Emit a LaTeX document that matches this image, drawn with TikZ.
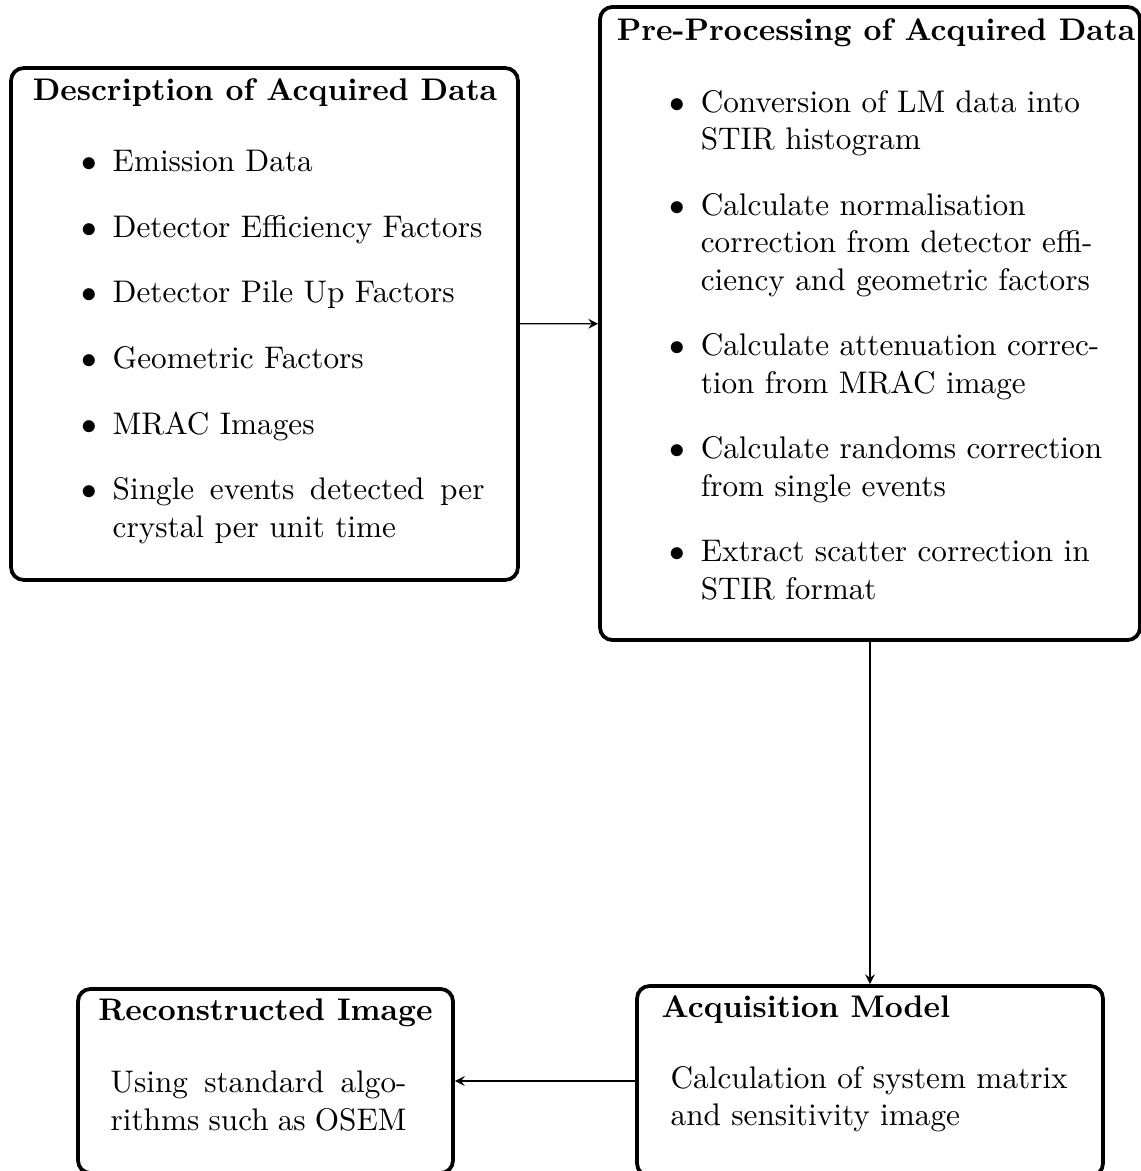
\documentclass[tikz,border=0pt]{standalone}
\usepackage{amsmath, amssymb}
\usepackage{tikz}
\usetikzlibrary{arrows,calc,positioning}
\renewcommand{\labelitemi}{$\bullet$}

\begin{document}
\begin{tikzpicture}[x=0.32pt,y=-0.32pt,
    stage/.style={draw,very thick,rounded corners=4pt,inner sep=0pt},
    stagetitle/.style={anchor=base,inner sep=0pt,font=\bfseries},
    stagetext/.style={anchor=base west,inner sep=0pt},
    flow/.style={-stealth}]
      \useasboundingbox (0,0) rectangle (1141,1171);
      % the four stages
      \node[stage,minimum width=162.2pt,minimum height=163.8pt] (desc) at (264.5,324) {};
      \node[stage,minimum width=172.8pt,minimum height=202.6pt] (prep) at (870,323.5) {};
      \node[stage,minimum width=120pt,minimum height=58.9pt] (recon) at (265.5,1081) {};
      \node[stage,minimum width=149.1pt,minimum height=60.8pt] (acqm) at (870,1081) {};
      % titles
      \node[stagetitle] (desct) at (265,100) {Description of Acquired Data};
      \node[stagetitle] (prept) at (876,40) {Pre-Processing of Acquired Data};
      \node[stagetitle] (recont) at (265.5,1020) {Reconstructed Image};
      \node[stagetitle,anchor=base west] (acqmt) at (661,1017) {Acquisition Model};
      % contents
      \node[stagetext] (descl) at (34,171.7) {\begin{minipage}[t]{144pt}
        \begin{itemize}\setlength{\itemsep}{5pt}
          \item Emission Data
          \item Detector Efficiency Factors
          \item Detector Pile Up Factors
          \item Geometric Factors
          \item MRAC Images
          \item Single events detected per crystal per unit time
        \end{itemize}\end{minipage}};
      \node[stagetext] (prepl) at (622,112) {\begin{minipage}[t]{155pt}\raggedright
        \begin{itemize}\setlength{\itemsep}{5pt}
          \item Conversion of LM data into\newline STIR histogram
          \item Calculate normalisation\newline correction from detector effi-\newline ciency and geometric factors
          \item Calculate attenuation correc-\newline tion from MRAC image
          \item Calculate randoms correction\newline from single events
          \item Extract scatter correction in\newline STIR format
        \end{itemize}\end{minipage}};
      \node[stagetext] (reconl) at (110,1092.7) {\begin{minipage}[t]{94.7pt}
        Using standard algorithms such as OSEM\end{minipage}};
      \node[stagetext] (acqml) at (670,1088) {\begin{minipage}[t]{140pt}\raggedright
        Calculation of system matrix\newline and sensitivity image\end{minipage}};
      % arrows
      \draw[flow] (desc) -- (prep);
      \draw[flow] (prep) -- (acqm);
      \draw[flow] (acqm) -- (recon);
\end{tikzpicture}
\end{document}
